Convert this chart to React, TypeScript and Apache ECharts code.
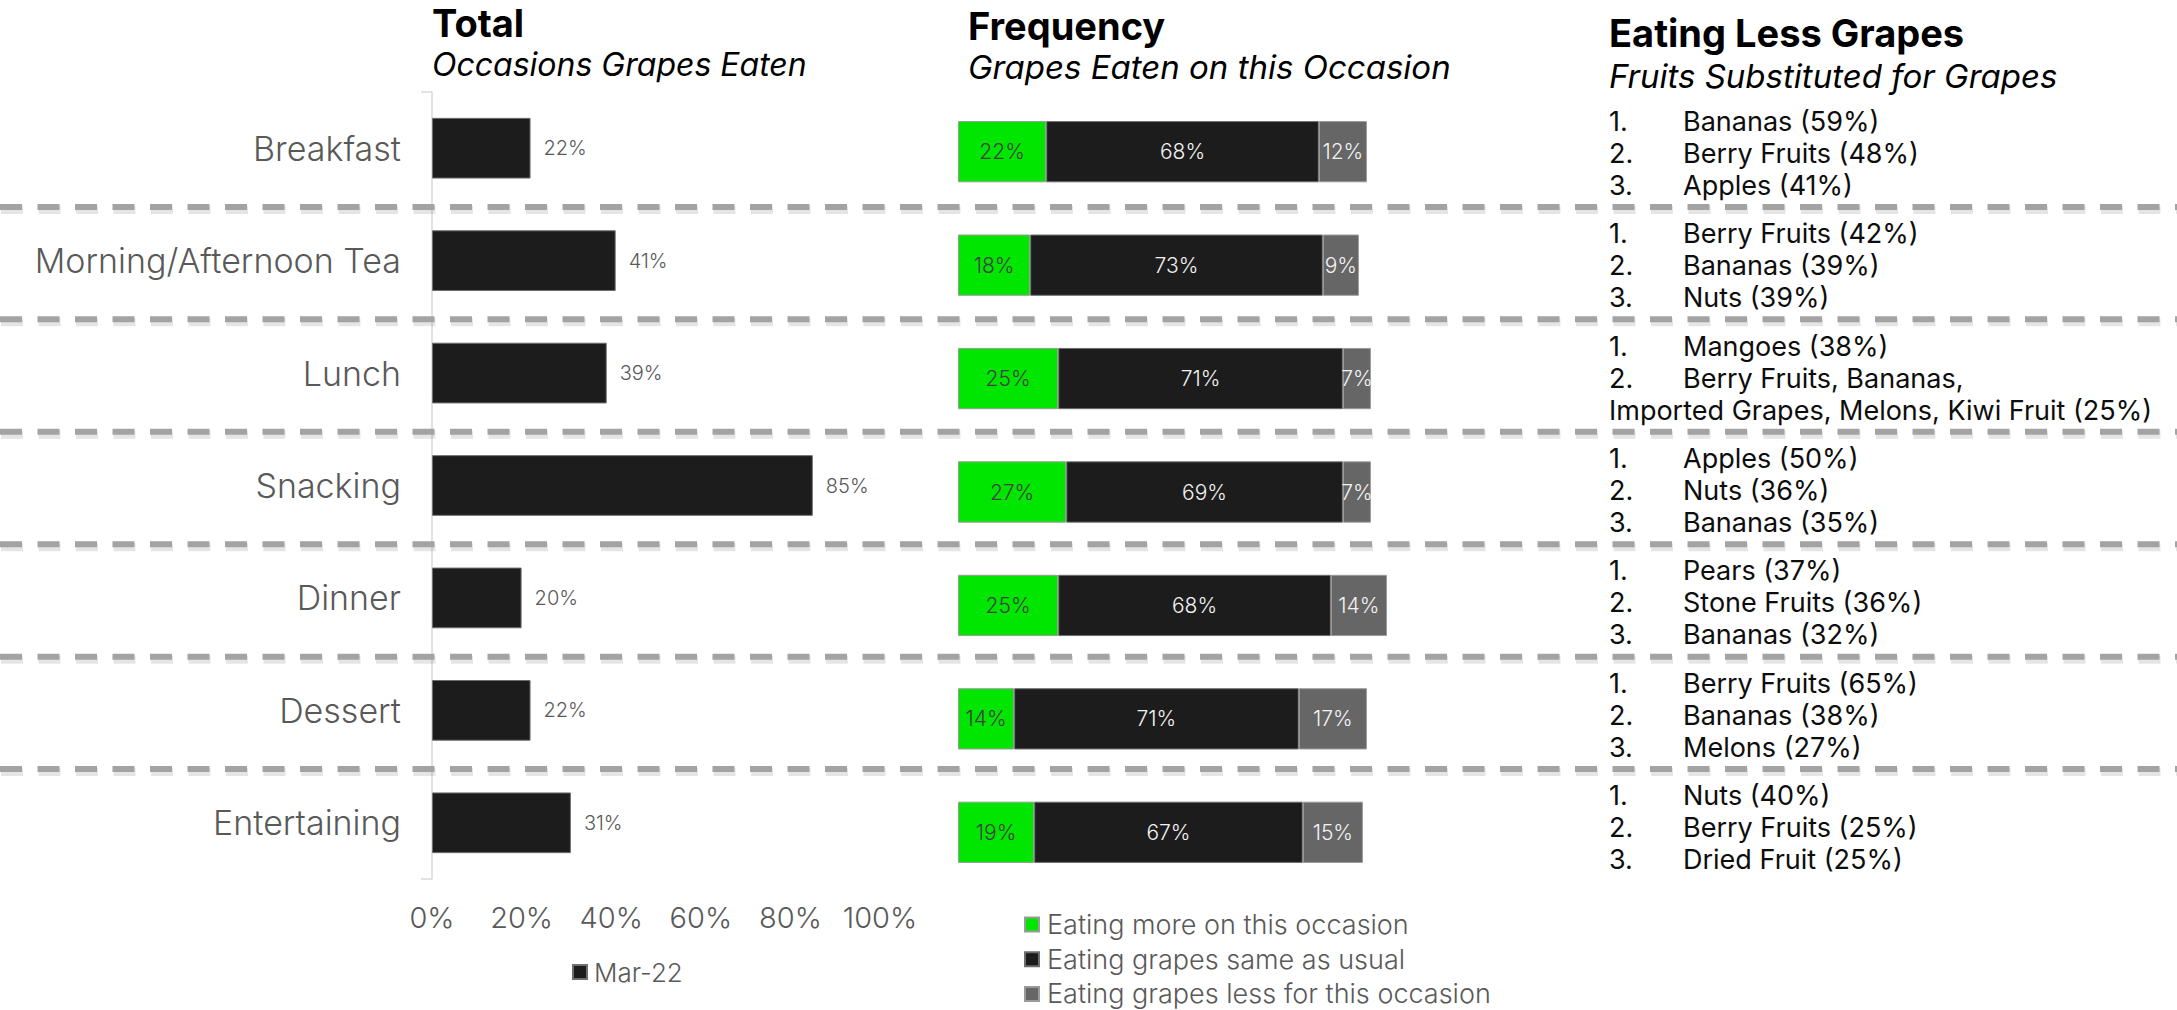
import React, { useEffect, useRef } from "react";
import * as echarts from "echarts";

const categories = ["Breakfast", "Morning/Afternoon Tea", "Lunch", "Snacking", "Dinner", "Dessert", "Entertaining"];
const totalValues = [22, 41, 39, 85, 20, 22, 31];
const moreValues = [22, 18, 25, 27, 25, 14, 19];
const sameValues = [68, 73, 71, 69, 68, 71, 67];
const lessValues = [12, 9, 7, 7, 14, 17, 15];
const xTicks = [0, 20, 40, 60, 80, 100];
const freqNames = ["Eating more on this occasion", "Eating grapes same as usual", "Eating grapes less for this occasion"];
const substitutes: string[][][] = [
  [["1.", "Bananas (59%)"], ["2.", "Berry Fruits (48%)"], ["3.", "Apples (41%)"]],
  [["1.", "Berry Fruits (42%)"], ["2.", "Bananas (39%)"], ["3.", "Nuts (39%)"]],
  [["1.", "Mangoes (38%)"], ["2.", "Berry Fruits, Bananas,"], ["", "Imported Grapes, Melons, Kiwi Fruit (25%)"]],
  [["1.", "Apples (50%)"], ["2.", "Nuts (36%)"], ["3.", "Bananas (35%)"]],
  [["1.", "Pears (37%)"], ["2.", "Stone Fruits (36%)"], ["3.", "Bananas (32%)"]],
  [["1.", "Berry Fruits (65%)"], ["2.", "Bananas (38%)"], ["3.", "Melons (27%)"]],
  [["1.", "Nuts (40%)"], ["2.", "Berry Fruits (25%)"], ["3.", "Dried Fruit (25%)"]],
];

const FONT = "Inter, 'Open Sans', sans-serif";
const GRAY = "#595959";

export default function App() {
  const ref = useRef<HTMLDivElement>(null);
  useEffect(() => {
    if (!ref.current) return;
    const chart = echarts.init(ref.current, null, { renderer: "svg" });
    const L_LEFT = 432, L_TOP = 92, L_W = 448, L_H = 787;
    const M_LEFT = 958, M_TOP = 95, M_W = 441, M_H = 794;
    const band = L_H / categories.length;
    const NUM_X = 1609, ITEM_X = 1683;

    const graphics: any[] = [];
    const title = (text: string, x: number, y: number, size: number, bold: boolean) => ({
      type: "text", x, y, z: 10,
      style: { text, fontSize: size, fontFamily: FONT, fontWeight: bold ? "bold" : "normal", fontStyle: bold ? "normal" : "italic", fill: "#000", align: "left", verticalAlign: "middle" },
    });
    graphics.push(title("Total", L_LEFT, 23, 38, true));
    graphics.push(title("Occasions Grapes Eaten", L_LEFT, 64, 32, false));
    graphics.push(title("Frequency", 968, 26, 38, true));
    graphics.push(title("Grapes Eaten on this Occasion", 968, 67, 33, false));
    graphics.push(title("Eating Less Grapes", NUM_X, 33, 38, true));
    graphics.push(title("Fruits Substituted for Grapes", NUM_X, 76, 33, false));

    for (let k = 1; k < categories.length; k++) {
      const y = L_TOP + k * band + 2.5;
      graphics.push({
        type: "line", z: 1,
        shape: { x1: 1, y1: y + 3, x2: 2178, y2: y + 3 },
        style: { stroke: "rgba(0,0,0,0.10)", lineWidth: 8, lineDash: [22, 15.5] },
      });
      graphics.push({
        type: "line", z: 2,
        shape: { x1: 0, y1: y, x2: 2177, y2: y },
        style: { stroke: "#a3a3a3", lineWidth: 6, lineDash: [22, 15.5] },
      });
    }
    [L_TOP, L_TOP + L_H].forEach((y) => {
      graphics.push({ type: "line", z: 3, shape: { x1: L_LEFT - 11, y1: y, x2: L_LEFT, y2: y }, style: { stroke: "#d9d9d9", lineWidth: 1.5 } });
    });

    substitutes.forEach((lines, k) => {
      const c = L_TOP + (k + 0.5) * band + 5;
      lines.forEach((ln, i) => {
        const y = c + (i - 1) * 32;
        if (ln[0]) {
          graphics.push({ type: "text", x: NUM_X, y, z: 10, style: { text: ln[0], fontSize: 27, fontFamily: FONT, fill: "#0d0d0d", align: "left", verticalAlign: "middle" } });
        }
        graphics.push({ type: "text", x: ln[0] ? ITEM_X : NUM_X, y, z: 10, style: { text: ln[1], fontSize: 27, fontFamily: FONT, fill: "#0d0d0d", align: "left", verticalAlign: "middle" } });
      });
    });

    const midLabel = (color: string) => ({
      show: true, position: "inside", formatter: "{c}%", color, fontSize: 21, fontWeight: 300, fontFamily: FONT,
    });

    const freqLegend = (name: string, i: number) => ({
      data: [name], orient: "horizontal", left: 1019, top: 906 + i * 34.7, icon: "rect", itemWidth: 14, itemHeight: 14, itemGap: 4,
      textStyle: { color: GRAY, fontSize: 27, fontWeight: 300, fontFamily: FONT, padding: [0, 0, 0, 3] },
    });

    chart.setOption({
      animation: false,
      backgroundColor: "#ffffff",
      textStyle: { fontFamily: FONT },
      grid: [
        { left: L_LEFT, top: L_TOP, width: L_W, height: L_H, containLabel: false },
        { left: M_LEFT, top: M_TOP, width: M_W, height: M_H, containLabel: false },
      ],
      xAxis: [
        {
          type: "value", gridIndex: 0, min: 0, max: 100, interval: 20,
          axisLine: { show: false }, axisTick: { show: false }, splitLine: { show: false },
          axisLabel: { formatter: (v: number) => (xTicks.includes(v) ? v + "%" : ""), color: GRAY, fontSize: 29, fontWeight: 300, margin: 24, fontFamily: FONT },
        },
        { type: "value", gridIndex: 1, min: 0, max: 110, show: false },
      ],
      yAxis: [
        {
          type: "category", gridIndex: 0, data: categories, inverse: true,
          axisLine: { show: true, lineStyle: { color: "#d9d9d9", width: 1.5 } },
          axisTick: { show: false },
          axisLabel: { color: GRAY, fontSize: 34, fontWeight: 300, margin: 31, fontFamily: FONT },
        },
        { type: "category", gridIndex: 1, data: categories, inverse: true, show: false },
      ],
      legend: [
        {
          data: ["Mar-22"], left: 567, top: 954, icon: "rect", itemWidth: 14, itemHeight: 14, itemGap: 4,
          textStyle: { color: GRAY, fontSize: 26, fontWeight: 300, fontFamily: FONT, padding: [0, 0, 0, 2] },
        },
        ...freqNames.map((n, i) => freqLegend(n, i)),
      ],
      series: [
        {
          name: "Mar-22", type: "bar", xAxisIndex: 0, yAxisIndex: 0, data: totalValues, barWidth: "54%",
          itemStyle: { color: "#1c1c1c", borderColor: "#6e6e6e", borderWidth: 1 },
          label: { show: true, position: "right", distance: 13, formatter: "{c}%", color: GRAY, fontSize: 20, fontWeight: 300, fontFamily: FONT },
        },
        {
          name: freqNames[0], type: "bar", stack: "f", xAxisIndex: 1, yAxisIndex: 1, data: moreValues, barWidth: "54%",
          itemStyle: { color: "#00e600", borderColor: "#9a9a9a", borderWidth: 1 }, label: midLabel("#404040"),
        },
        {
          name: freqNames[1], type: "bar", stack: "f", xAxisIndex: 1, yAxisIndex: 1, data: sameValues, barWidth: "54%",
          itemStyle: { color: "#1c1c1c", borderColor: "#6e6e6e", borderWidth: 1 }, label: midLabel("#f2f2f2"),
        },
        {
          name: freqNames[2], type: "bar", stack: "f", xAxisIndex: 1, yAxisIndex: 1, data: lessValues, barWidth: "54%",
          itemStyle: { color: "#666666", borderColor: "#9a9a9a", borderWidth: 1 }, label: midLabel("#f2f2f2"),
        },
      ],
      graphic: graphics,
    });
    return () => chart.dispose();
  }, []);
  return <div ref={ref} style={{ position: "fixed", left: 0, top: 0, width: 2177, height: 1010, background: "#fff" }} />;
}
